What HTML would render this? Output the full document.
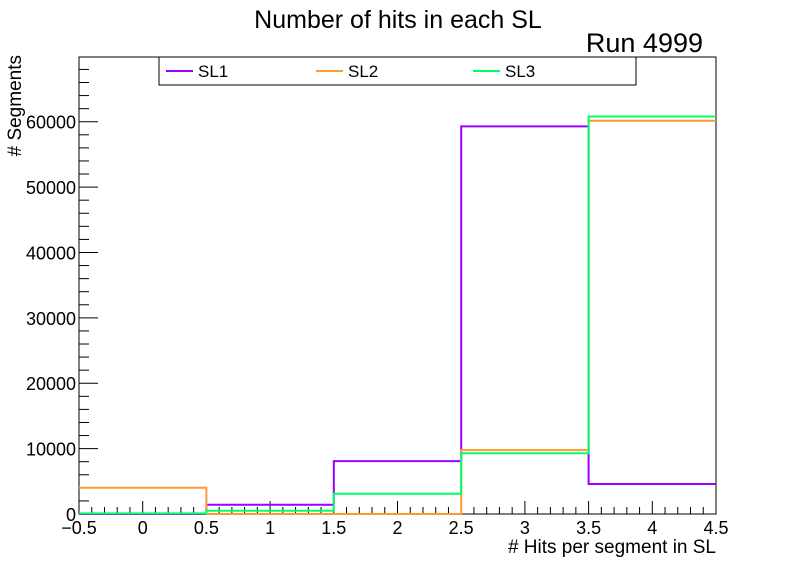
<!DOCTYPE html>
<html><head><meta charset="utf-8"><style>
body{margin:0;background:#fff;}
svg text{font-family:"Liberation Sans",sans-serif;fill:#000;}
</style></head><body>
<svg id="c" width="796" height="572" xmlns="http://www.w3.org/2000/svg"></svg>
<script>
const binEdges = [-0.5, 0.5, 1.5, 2.5, 3.5, 4.5];
const seriesNames = ["SL1", "SL2", "SL3"];
const seriesColors = ["#9900ff", "#ff9933", "#00ff66"];
const sl1Values = [0, 1420, 8090, 59280, 4580];
const sl2Values = [4010, 0, 0, 9770, 60150];
const sl3Values = [100, 500, 3100, 9300, 60800];
const xTickLabels = ["\u22120.5","0","0.5","1","1.5","2","2.5","3","3.5","4","4.5"];
const xTickValues = [-0.5,0,0.5,1,1.5,2,2.5,3,3.5,4,4.5];
const yTickValues = [0,10000,20000,30000,40000,50000,60000];

const svg = document.getElementById('c');
const NS = "http://www.w3.org/2000/svg";
const L=79,R=716,T=57,B=514, xMin=-0.5,xMax=4.5,yMax=69900;
const xs = v => L + (v-xMin)/(xMax-xMin)*(R-L);
const ys = v => B - v/yMax*(B-T);
function el(tag, attrs, parent){const e=document.createElementNS(NS,tag);for(const k in attrs)e.setAttribute(k,attrs[k]);(parent||svg).appendChild(e);return e;}

const frame = el('rect',{x:L,y:T,width:R-L,height:B-T,fill:'none',stroke:'#000','stroke-width':1});



for(let v=-0.5; v<=4.5001; v+=0.1){
  const isMajor = Math.abs(v*2-Math.round(v*2))<1e-6;
  const x=xs(v);
  const t=el('line',{x1:x,x2:x,y1:B,y2:B-(isMajor?13:7),stroke:'#000'});
  
  
}
xTickValues.forEach((v,i)=>{
  const t=el('text',{x:xs(v),y:B+20,'font-size':18,'text-anchor':'middle'});
  t.textContent=xTickLabels[i];
  
  
});
for(let v=0; v<=yMax; v+=2000){
  const isMajor = v%10000===0;
  const y=ys(v);
  const t=el('line',{x1:L,x2:L+(isMajor?19:10),y1:y,y2:y,stroke:'#000'});
  
  
}
yTickValues.forEach(v=>{
  const t=el('text',{x:L-3,y:ys(v)+7,'font-size':18,'text-anchor':'end'});
  t.textContent=String(v);
  
  
});

[sl1Values,sl2Values,sl3Values].forEach((vals,si)=>{
  let d='M'+xs(binEdges[0])+','+ys(vals[0]);
  for(let i=0;i<vals.length;i++){
    d+=' L'+xs(binEdges[i])+','+ys(vals[i])+' L'+xs(binEdges[i+1])+','+ys(vals[i]);
    if(i<vals.length-1) d+=' L'+xs(binEdges[i+1])+','+ys(vals[i+1]);
  }
  const p=el('path',{d:d,fill:'none',stroke:seriesColors[si],'stroke-width':2});
  
  
});

const lg=el('g',{});


el('rect',{x:159,y:57,width:477,height:28,fill:'#fff',stroke:'#000'},lg);
const lx=[166,316,473];
seriesNames.forEach((n,i)=>{
  const g=el('g',{},lg);
  
  
  el('line',{x1:lx[i],x2:lx[i]+27,y1:71,y2:71,stroke:seriesColors[i],'stroke-width':2},g);
  const t=el('text',{x:lx[i]+32,y:77,'font-size':17},g);
  t.textContent=n;
});

const title=el('text',{x:398,y:28,'font-size':25,'text-anchor':'middle'});
title.textContent='Number of hits in each SL';


const run=el('text',{x:703,y:52,'font-size':27,'text-anchor':'end'});
run.textContent='Run 4999';


const xt=el('text',{x:716,y:553,'font-size':19,'text-anchor':'end'});
xt.textContent='# Hits per segment in SL';


const yt=el('text',{x:0,y:0,'font-size':19,'text-anchor':'end',transform:'translate(21,55) rotate(-90)'});
yt.textContent='# Segments';


</script>
</body></html>
